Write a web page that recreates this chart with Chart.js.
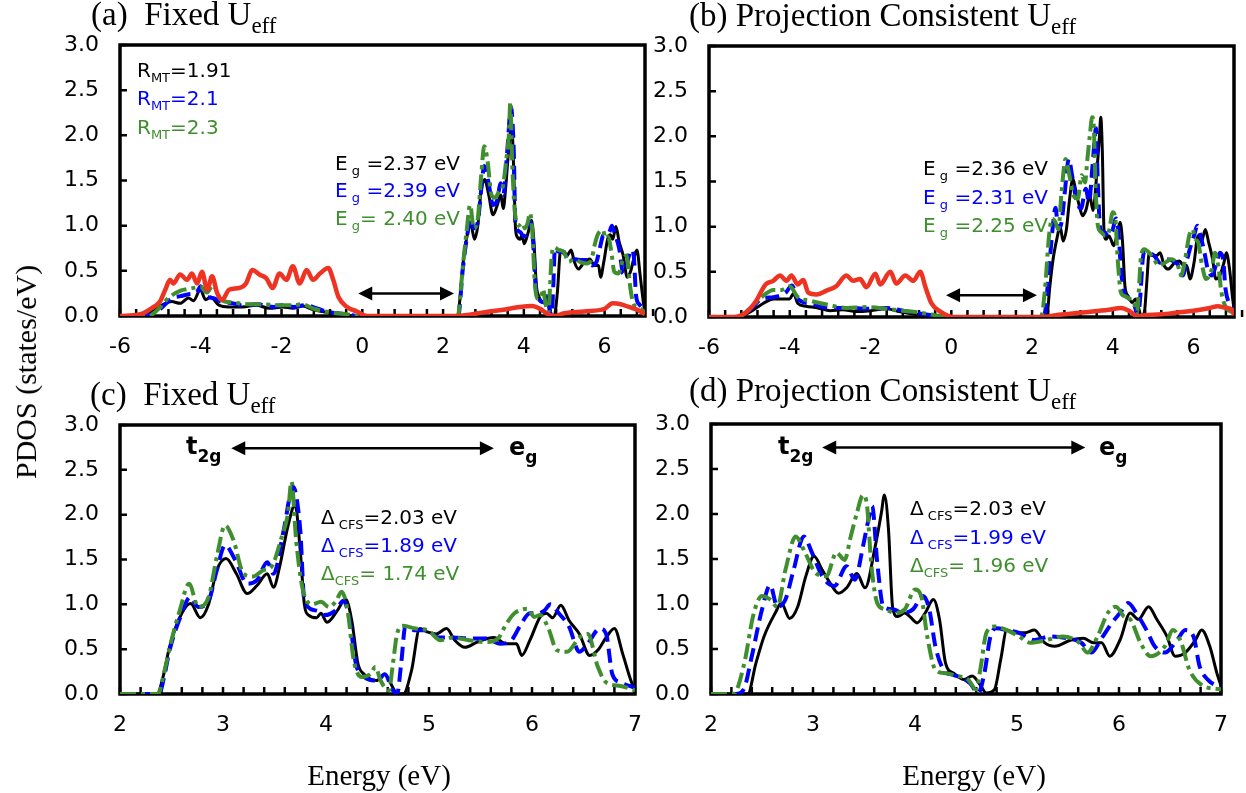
<!DOCTYPE html>
<html><head><meta charset="utf-8">
<script src="https://cdn.jsdelivr.net/npm/chart.js@4.4.1/dist/chart.umd.min.js"></script>
<style>
html,body{margin:0;padding:0;background:#fff;}
#wrap{position:relative;width:1246px;height:793px;overflow:hidden;background:#fff;}
canvas{position:absolute;}
.t{position:absolute;white-space:nowrap;line-height:1;}
.serif{font-family:"Liberation Serif","Times New Roman",serif;color:#000;}
.sans{font-family:"DejaVu Sans",sans-serif;font-size:20px;}
.sub{font-size:13px;vertical-align:-5px;}
.tsub{font-size:23px;vertical-align:-8px;}
.bold{font-family:"DejaVu Sans",sans-serif;font-weight:bold;font-size:24px;color:#000;}
.bsub{font-size:17px;vertical-align:-8px;}
.k{color:#000}.b{color:#0000ff}.g{color:#3f8f2f}
</style></head><body>
<div id="wrap">
<canvas id="ca"></canvas><canvas id="cb"></canvas><canvas id="cc"></canvas><canvas id="cd"></canvas>

<div class="t serif" style="left:91px;top:-2px;font-size:33px">(a)&nbsp; Fixed U<span class="tsub">eff</span></div>
<div class="t serif" style="left:689px;top:-1px;font-size:33px">(b) Projection Consistent U<span class="tsub">eff</span></div>
<div class="t serif" style="left:90px;top:378px;font-size:33px">(c)&nbsp; Fixed U<span class="tsub">eff</span></div>
<div class="t serif" style="left:689px;top:374px;font-size:33px">(d) Projection Consistent U<span class="tsub">eff</span></div>

<div class="t serif" style="left:26px;top:372px;font-size:30px;transform:translate(-50%,-50%) rotate(-90deg)">PDOS (states/eV)</div>
<div class="t serif" style="left:379px;top:775px;font-size:29px;transform:translate(-50%,-50%)">Energy (eV)</div>
<div class="t serif" style="left:974px;top:775px;font-size:29px;transform:translate(-50%,-50%)">Energy (eV)</div>

<div class="t sans k" style="left:137px;top:60px">R<span class="sub">MT</span>=1.91</div>
<div class="t sans b" style="left:137px;top:88px">R<span class="sub">MT</span>=2.1</div>
<div class="t sans g" style="left:137px;top:117px">R<span class="sub">MT</span>=2.3</div>

<div class="t sans k" style="left:335px;top:153px">E<span class="sub">&nbsp;g</span>&nbsp;=2.37 eV</div>
<div class="t sans b" style="left:335px;top:180px">E<span class="sub">&nbsp;g</span>&nbsp;=2.39 eV</div>
<div class="t sans g" style="left:335px;top:208px">E<span class="sub">&nbsp;g</span>= 2.40 eV</div>

<div class="t sans k" style="left:923px;top:158px">E<span class="sub">&nbsp;g</span>&nbsp;=2.36 eV</div>
<div class="t sans b" style="left:923px;top:187px">E<span class="sub">&nbsp;g</span>&nbsp;=2.31 eV</div>
<div class="t sans g" style="left:923px;top:215px">E<span class="sub">&nbsp;g</span>&nbsp;=2.25 eV</div>

<div class="t sans k" style="left:321px;top:507px">Δ<span class="sub">&nbsp;CFS</span>=2.03 eV</div>
<div class="t sans b" style="left:321px;top:535px">Δ<span class="sub">&nbsp;CFS</span>=1.89 eV</div>
<div class="t sans g" style="left:321px;top:563px">Δ<span class="sub">CFS</span>= 1.74 eV</div>

<div class="t sans k" style="left:910px;top:498px">Δ<span class="sub">&nbsp;CFS</span>=2.03 eV</div>
<div class="t sans b" style="left:910px;top:527px">Δ<span class="sub">&nbsp;CFS</span>=1.99 eV</div>
<div class="t sans g" style="left:910px;top:555px">Δ<span class="sub">CFS</span>= 1.96 eV</div>

<div class="t bold" style="left:186px;top:434px">t<span class="bsub">2g</span></div>
<div class="t bold" style="left:509px;top:435px">e<span class="bsub">g</span></div>
<div class="t bold" style="left:778px;top:434px">t<span class="bsub">2g</span></div>
<div class="t bold" style="left:1099px;top:435px">e<span class="bsub">g</span></div>
</div>

<script>
// ---------- tick labels ----------
const xTicksWide = [-6, -4, -2, 0, 2, 4, 6];
const xTicksNarrow = [2, 3, 4, 5, 6, 7];
const yTicks = [0, 0.5, 1, 1.5, 2, 2.5, 3];

// ---------- conduction band (Fixed U_eff), [E, PDOS] ----------
const fixedBlackCB = [[2.0,0],[2.36,0],[2.42,0.2],[2.48,0.52],[2.6,0.9],[2.685,1.01],[2.78,0.85],[2.86,1.0],[2.94,1.38],[3.03,1.51],[3.13,1.34],[3.235,1.12],[3.33,1.21],[3.43,1.34],[3.49,1.19],[3.55,1.42],[3.63,1.87],[3.70,2.11],[3.75,1.6],[3.79,1.0],[3.83,0.88],[3.91,0.85],[3.95,0.9],[4.01,0.8],[4.11,0.93],[4.19,1.06],[4.25,0.82],[4.31,0.34],[4.37,0.22],[4.49,0.15],[4.57,0.22],[4.65,0.07],[4.69,0],[4.75,0],[4.83,0.26],[4.91,0.73],[4.99,0.69],[5.07,0.67],[5.17,0.73],[5.25,0.6],[5.35,0.52],[5.47,0.58],[5.63,0.63],[5.75,0.56],[5.85,0.56],[5.90,0.43],[5.98,0.6],[6.08,0.86],[6.14,0.9],[6.20,0.85],[6.28,0.99],[6.36,0.82],[6.46,0.67],[6.56,0.43],[6.64,0.49],[6.72,0.63],[6.80,0.73],[6.88,0.45],[6.96,0.15],[7.0,0.04]];
const fixedBlueCB = [[2.0,0],[2.38,0],[2.43,0.2],[2.48,0.48],[2.6,0.9],[2.68,1.08],[2.76,0.97],[2.86,1.04],[2.94,1.38],[3.02,1.66],[3.12,1.49],[3.235,1.23],[3.33,1.27],[3.43,1.47],[3.49,1.34],[3.59,1.83],[3.68,2.31],[3.75,1.83],[3.79,1.04],[3.91,0.93],[3.99,0.88],[4.09,0.93],[4.17,1.04],[4.23,0.82],[4.29,0.34],[4.37,0.19],[4.5,0.15],[4.57,0.22],[4.65,0.04],[4.69,0],[4.73,0.34],[4.77,0.75],[4.87,0.71],[4.99,0.71],[5.09,0.63],[5.23,0.63],[5.39,0.62],[5.55,0.62],[5.69,0.56],[5.8,0.6],[5.88,0.75],[5.98,0.9],[6.06,0.9],[6.12,0.93],[6.18,1.0],[6.26,0.9],[6.36,0.75],[6.46,0.47],[6.54,0.56],[6.66,0.73],[6.72,0.67],[6.78,0.22],[6.86,0.13],[7.0,0.07]];
const fixedGreenCB = [[2.0,0],[2.37,0],[2.43,0.25],[2.5,0.6],[2.58,0.93],[2.67,1.23],[2.76,0.97],[2.86,1.08],[2.94,1.53],[3.02,1.88],[3.1,1.72],[3.2,1.34],[3.29,1.31],[3.39,1.38],[3.47,1.42],[3.57,1.75],[3.63,2.01],[3.665,2.37],[3.71,1.72],[3.77,1.19],[3.87,1.0],[3.95,1.03],[4.03,0.97],[4.1,1.04],[4.15,1.14],[4.21,0.93],[4.27,0.37],[4.35,0.19],[4.43,0.22],[4.48,0.3],[4.53,0.15],[4.61,0.04],[4.65,0.34],[4.69,0.67],[4.75,0.76],[4.87,0.73],[4.99,0.71],[5.11,0.6],[5.23,0.63],[5.39,0.6],[5.55,0.58],[5.67,0.62],[5.75,0.78],[5.83,0.9],[5.96,0.95],[6.02,0.86],[6.08,0.88],[6.16,0.73],[6.24,0.49],[6.34,0.47],[6.46,0.63],[6.54,0.67],[6.64,0.3],[6.72,0.13],[6.86,0.09],[7.0,0.04]];

// ---------- conduction band (Projection consistent U_eff) ----------
const pcBlackCB = [[2.0,0],[2.36,0],[2.44,0.34],[2.52,0.64],[2.63,0.9],[2.69,1.01],[2.77,0.84],[2.85,0.97],[2.93,1.31],[3.01,1.53],[3.09,1.38],[3.17,1.23],[3.25,1.12],[3.33,1.18],[3.43,1.34],[3.51,1.18],[3.61,1.64],[3.67,2.01],[3.70,2.21],[3.74,1.83],[3.78,0.97],[3.83,0.86],[3.90,0.9],[3.95,0.86],[4.02,0.79],[4.10,0.9],[4.18,1.05],[4.24,0.83],[4.30,0.34],[4.38,0.23],[4.48,0.16],[4.56,0.2],[4.64,0.1],[4.70,0.01],[4.78,0.05],[4.84,0.38],[4.90,0.71],[4.98,0.68],[5.08,0.68],[5.17,0.71],[5.27,0.57],[5.37,0.53],[5.53,0.6],[5.65,0.62],[5.75,0.57],[5.83,0.57],[5.91,0.42],[6.01,0.6],[6.11,0.9],[6.19,0.83],[6.29,0.97],[6.37,0.83],[6.47,0.64],[6.55,0.42],[6.65,0.46],[6.75,0.6],[6.81,0.71],[6.89,0.53],[6.96,0.23],[7.0,0.09]];
const pcBlueCB = [[2.0,0],[2.24,0],[2.32,0.05],[2.40,0.42],[2.50,0.94],[2.58,1.21],[2.65,0.97],[2.73,1.05],[2.81,1.38],[2.91,1.75],[2.99,1.57],[3.09,1.31],[3.21,1.2],[3.33,1.42],[3.41,1.27],[3.49,1.64],[3.55,1.97],[3.58,2.09],[3.63,1.46],[3.69,0.97],[3.79,0.94],[3.88,0.9],[3.98,0.94],[4.08,1.09],[4.14,0.94],[4.20,0.53],[4.28,0.27],[4.38,0.21],[4.46,0.18],[4.54,0.12],[4.62,0.01],[4.68,0.23],[4.74,0.64],[4.80,0.73],[4.90,0.71],[5.02,0.68],[5.17,0.6],[5.33,0.64],[5.49,0.62],[5.63,0.57],[5.73,0.46],[5.83,0.62],[5.93,0.79],[6.01,0.9],[6.09,1.01],[6.17,0.9],[6.27,0.71],[6.35,0.53],[6.45,0.46],[6.57,0.6],[6.65,0.71],[6.73,0.64],[6.79,0.31],[6.87,0.16],[7.0,0.07]];
const pcGreenCB = [[2.0,0],[2.22,0],[2.32,0.31],[2.42,0.9],[2.50,1.09],[2.58,1.05],[2.65,0.97],[2.73,1.38],[2.83,1.75],[2.91,1.6],[3.03,1.34],[3.13,1.31],[3.23,1.57],[3.31,1.49],[3.37,1.75],[3.43,2.01],[3.49,2.21],[3.53,2.09],[3.57,1.46],[3.63,1.01],[3.71,0.94],[3.81,0.9],[3.90,0.94],[4.0,1.16],[4.06,1.09],[4.12,0.64],[4.20,0.27],[4.30,0.23],[4.42,0.2],[4.52,0.16],[4.60,0.05],[4.64,0.27],[4.70,0.68],[4.78,0.75],[4.90,0.71],[5.02,0.64],[5.13,0.57],[5.29,0.6],[5.45,0.64],[5.61,0.57],[5.69,0.46],[5.79,0.64],[5.89,0.9],[5.97,0.97],[6.05,0.86],[6.11,0.83],[6.21,0.57],[6.31,0.42],[6.45,0.53],[6.53,0.71],[6.61,0.57],[6.69,0.27],[6.81,0.1],[7.0,0.05]];

// ---------- valence band + O-p (red), Fixed U_eff ----------
const fixedBlackVB = [[-6,0],[-5.47,0],[-5.22,0.05],[-4.97,0.12],[-4.72,0.16],[-4.51,0.14],[-4.3,0.2],[-4.18,0.17],[-4.01,0.29],[-3.88,0.18],[-3.76,0.21],[-3.55,0.12],[-3.3,0.1],[-2.97,0.1],[-2.63,0.12],[-2.3,0.085],[-1.97,0.1],[-1.72,0.085],[-1.47,0.11],[-1.22,0.07],[-0.88,0.04],[-0.55,0.01],[-0.3,0]];
const fixedBlueVB = [[-6,0],[-5.35,0],[-5.0,0.08],[-4.7,0.2],[-4.5,0.22],[-4.3,0.24],[-4.1,0.26],[-4.0,0.33],[-3.9,0.22],[-3.7,0.2],[-3.5,0.16],[-3.2,0.14],[-3.0,0.12],[-2.6,0.13],[-2.2,0.1],[-2.0,0.12],[-1.7,0.1],[-1.4,0.12],[-1.1,0.08],[-0.8,0.04],[-0.4,0.02],[-0.1,0]];
const fixedGreenVB = [[-6,0],[-5.3,0],[-5.0,0.1],[-4.8,0.2],[-4.5,0.28],[-4.3,0.3],[-4.0,0.32],[-3.85,0.26],[-3.7,0.34],[-3.5,0.18],[-3.2,0.15],[-2.8,0.13],[-2.5,0.13],[-2.0,0.12],[-1.7,0.12],[-1.5,0.13],[-1.2,0.08],[-0.8,0.04],[-0.4,0.02],[-0.1,0]];
const fixedRed = [[-6,0],[-5.5,0.02],[-5.22,0.085],[-5.01,0.16],[-4.88,0.29],[-4.76,0.4],[-4.68,0.36],[-4.51,0.46],[-4.34,0.4],[-4.22,0.47],[-4.09,0.36],[-3.97,0.49],[-3.84,0.29],[-3.72,0.44],[-3.59,0.25],[-3.47,0.18],[-3.3,0.29],[-3.05,0.31],[-2.88,0.36],[-2.72,0.51],[-2.55,0.46],[-2.38,0.42],[-2.22,0.31],[-2.05,0.47],[-1.88,0.4],[-1.72,0.55],[-1.55,0.36],[-1.38,0.51],[-1.22,0.4],[-1.05,0.47],[-0.84,0.53],[-0.72,0.4],[-0.59,0.21],[-0.38,0.1],[-0.13,0.05],[0.12,0],[2.3,0],[2.6,0.01],[3.0,0.04],[3.5,0.07],[3.9,0.1],[4.2,0.11],[4.4,0.08],[4.6,0.02],[4.75,0],[5.0,0.03],[5.5,0.05],[6.0,0.08],[6.2,0.14],[6.4,0.13],[6.6,0.1],[6.8,0.07],[7.0,0.02]];

// ---------- valence band + O-p (red), Projection consistent U_eff ----------
const pcBlackVB = [[-6,0],[-5.3,0],[-5.0,0.05],[-4.66,0.15],[-4.4,0.2],[-4.2,0.2],[-4.0,0.2],[-3.91,0.26],[-3.8,0.15],[-3.6,0.12],[-3.3,0.1],[-3.0,0.07],[-2.7,0.08],[-2.3,0.06],[-2.0,0.07],[-1.6,0.09],[-1.3,0.06],[-0.9,0.03],[-0.5,0.01],[-0.2,0]];
const pcBlueVB = [[-6,0],[-5.3,0],[-5.0,0.07],[-4.7,0.2],[-4.4,0.22],[-4.1,0.27],[-3.95,0.35],[-3.8,0.2],[-3.5,0.15],[-3.0,0.1],[-2.5,0.1],[-2.0,0.09],[-1.6,0.1],[-1.2,0.07],[-0.8,0.04],[-0.3,0.01],[0,0]];
const pcGreenVB = [[-6,0],[-5.3,0],[-5.0,0.09],[-4.7,0.22],[-4.4,0.3],[-4.2,0.3],[-4.0,0.34],[-3.8,0.22],[-3.5,0.18],[-3.0,0.13],[-2.6,0.1],[-2.1,0.11],[-1.6,0.09],[-1.2,0.07],[-0.8,0.05],[-0.4,0.02],[0,0]];
const pcRed = [[-6,0],[-5.4,0],[-5.08,0.05],[-4.83,0.18],[-4.6,0.36],[-4.41,0.4],[-4.24,0.46],[-4.08,0.4],[-3.96,0.46],[-3.8,0.36],[-3.67,0.41],[-3.54,0.27],[-3.34,0.25],[-3.1,0.29],[-2.85,0.34],[-2.6,0.46],[-2.43,0.4],[-2.26,0.42],[-2.1,0.33],[-1.88,0.48],[-1.76,0.36],[-1.51,0.5],[-1.36,0.37],[-1.14,0.46],[-0.94,0.4],[-0.77,0.5],[-0.64,0.33],[-0.49,0.15],[-0.27,0.06],[0.05,0],[2.2,0],[2.6,0.02],[3.0,0.04],[3.5,0.06],[3.9,0.08],[4.2,0.1],[4.4,0.07],[4.6,0.01],[4.8,0.02],[5.2,0.03],[5.6,0.05],[6.0,0.07],[6.4,0.1],[6.6,0.12],[6.8,0.1],[6.95,0.08],[7.0,0.02]];

// ---------- annotation arrows (data coords) ----------
const gapArrowA = [-0.1, 2.27, 0.25];
const gapArrowB = [-0.13, 2.12, 0.24];
const cfsArrowC = [3.08, 5.63, 2.74];
const cfsArrowD = [3.09, 5.67, 2.74];

// ---------- styles ----------
const BLACK = '#000000', BLUE = '#0000ff', GREEN = '#3f8f2f', RED = '#ee3322';

function ds(arr, color, width, dash, order) {
  return { data: arr.map(p => ({x: p[0], y: p[1]})), borderColor: color, borderWidth: width,
           borderDash: dash, order: order, fill: false, pointRadius: 0,
           cubicInterpolationMode: 'monotone' };
}

const framePlugin = {
  id: 'frame',
  beforeDatasetsDraw(chart, args, opts) {
    const ctx = chart.ctx, a = chart.chartArea, x = chart.scales.x, y = chart.scales.y;
    ctx.save();
    ctx.strokeStyle = '#000';
    ctx.lineWidth = 3.5;
    ctx.strokeRect(a.left, a.top, a.right - a.left, a.bottom - a.top);
    ctx.lineWidth = 2.5;
    ctx.beginPath();
    yTicks.forEach(v => { const py = y.getPixelForValue(v); ctx.moveTo(a.left, py); ctx.lineTo(a.left + 7, py); });
    const n = Math.round((x.max - x.min) / opts.minor);
    for (let i = 0; i <= n; i++) {
      const px = x.getPixelForValue(x.min + i * opts.minor);
      ctx.moveTo(px, a.bottom); ctx.lineTo(px, a.bottom - 7);
    }
    ctx.stroke();
    ctx.restore();
  },
  afterDatasetsDraw(chart, args, opts) {
    if (!opts.arrow) return;
    const ctx = chart.ctx, x = chart.scales.x, y = chart.scales.y;
    const [e1, e2, v] = opts.arrow;
    const x1 = x.getPixelForValue(e1), x2 = x.getPixelForValue(e2), py = y.getPixelForValue(v);
    const hl = 14, hw = 7;
    ctx.save();
    ctx.strokeStyle = '#000'; ctx.fillStyle = '#000'; ctx.lineWidth = 2.5;
    ctx.beginPath(); ctx.moveTo(x1 + hl - 2, py); ctx.lineTo(x2 - hl + 2, py); ctx.stroke();
    ctx.beginPath(); ctx.moveTo(x1, py); ctx.lineTo(x1 + hl, py - hw); ctx.lineTo(x1 + hl, py + hw); ctx.closePath(); ctx.fill();
    ctx.beginPath(); ctx.moveTo(x2, py); ctx.lineTo(x2 - hl, py - hw); ctx.lineTo(x2 - hl, py + hw); ctx.closePath(); ctx.fill();
    ctx.restore();
  }
};

const TOPPAD = 40;
function panel(id, boxX, boxW, boxBottom, area, xr, xTicks, minor, datasets, arrow) {
  const cv = document.getElementById(id);
  const box = { x: boxX, y: area.t - TOPPAD, w: boxW };
  box.h = boxBottom - box.y;
  cv.width = box.w; cv.height = box.h;
  cv.style.left = box.x + 'px'; cv.style.top = box.y + 'px';
  const yW = area.l - box.x, xH = 50;
  new Chart(cv, {
    type: 'line',
    data: { datasets: datasets },
    options: {
      responsive: false, animation: false, devicePixelRatio: 1,
      layout: { padding: { left: 0, top: TOPPAD, right: box.x + box.w - area.r, bottom: box.y + box.h - area.b - xH } },
      plugins: { legend: { display: false }, tooltip: { enabled: false }, frame: { minor: minor, arrow: arrow } },
      scales: {
        x: {
          type: 'linear', min: xr[0], max: xr[1],
          grid: { display: false, drawTicks: false }, border: { display: false },
          ticks: { font: { family: 'DejaVu Sans', size: 22 }, color: '#000', padding: 18, maxRotation: 0, autoSkip: false,
                   callback: v => String(v) },
          afterBuildTicks: s => { s.ticks = xTicks.map(v => ({ value: v })); },
          afterFit: s => { s.height = xH; }
        },
        y: {
          type: 'linear', min: 0, max: 3,
          grid: { display: false, drawTicks: false }, border: { display: false },
          ticks: { font: { family: 'DejaVu Sans', size: 22 }, color: '#000', padding: 21,
                   callback: v => Number(v).toFixed(1) },
          afterBuildTicks: s => { s.ticks = yTicks.map(v => ({ value: v })); },
          afterFit: s => { s.width = yW; }
        }
      }
    },
    plugins: [framePlugin]
  });
}

panel('ca', 40, 620, 380, {l: 120, t: 45, r: 645, b: 316}, [-6, 7], xTicksWide, 0.4, [
  ds(fixedRed, RED, 4.5, [], 0),
  ds(fixedGreenVB.concat(fixedGreenCB), GREEN, 4, [16, 5, 4, 5], 1),
  ds(fixedBlueVB.concat(fixedBlueCB), BLUE, 4, [14, 7], 2),
  ds(fixedBlackVB.concat(fixedBlackCB), BLACK, 3, [], 3)
], gapArrowA);

panel('cb', 640, 606, 380, {l: 709, t: 46, r: 1234, b: 317}, [-6, 7], xTicksWide, 0.4, [
  ds(pcRed, RED, 4.5, [], 0),
  ds(pcGreenVB.concat(pcGreenCB), GREEN, 4, [16, 5, 4, 5], 1),
  ds(pcBlueVB.concat(pcBlueCB), BLUE, 4, [14, 7], 2),
  ds(pcBlackVB.concat(pcBlackCB), BLACK, 3, [], 3)
], gapArrowB);

panel('cc', 40, 620, 793, {l: 120, t: 425, r: 643, b: 694}, [2, 7], xTicksNarrow, 0.2, [
  ds(fixedGreenCB, GREEN, 4, [16, 5, 4, 5], 1),
  ds(fixedBlueCB, BLUE, 4, [14, 7], 2),
  ds(fixedBlackCB, BLACK, 3, [], 3)
], cfsArrowC);

panel('cd', 640, 606, 793, {l: 711, t: 424, r: 1233, b: 694}, [2, 7], xTicksNarrow, 0.2, [
  ds(pcGreenCB, GREEN, 4, [16, 5, 4, 5], 1),
  ds(pcBlueCB, BLUE, 4, [14, 7], 2),
  ds(pcBlackCB, BLACK, 3, [], 3)
], cfsArrowD);
</script>
</body></html>
